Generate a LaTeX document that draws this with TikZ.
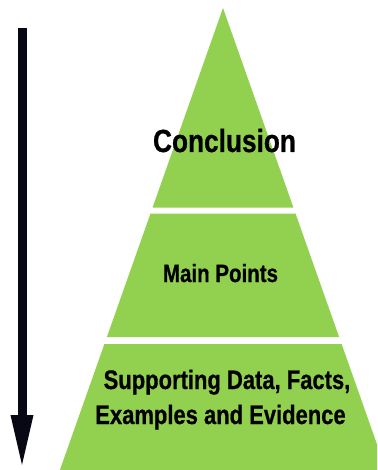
\documentclass[tikz,border=0pt]{standalone}
\usepackage{fontspec}
\setmainfont{Liberation Sans}[FakeStretch=0.82, BoldFeatures={FakeBold=0.6}]
\usetikzlibrary{arrows.meta}
\definecolor{pgreen}{RGB}{146,208,80}
\tikzset{
  tier/.style={fill=pgreen, draw=none},
  lbl/.style={anchor=base, inner sep=0pt, font=\bfseries, text=black},
  downarrow/.style={line width=9pt, draw={rgb,255:red,8;green,8;blue,20}, -{Triangle[width=20pt,length=55pt]}}
}
\begin{document}
\begin{tikzpicture}[x=1pt,y=-1pt]
\useasboundingbox (0,0) rectangle (377,470);
\begin{scope}
\clip (0,0) rectangle (377,470);
% top triangle
\fill[tier] (223,8) -- (293.4,207.5) -- (152.6,207.5) -- cycle;
% middle trapezoid
\fill[tier] (150.5,213.5) -- (295.5,213.5) -- (339.1,337) -- (106.9,337) -- cycle;
% bottom trapezoid
\fill[tier] (104.4,344) -- (341.6,344) -- (386.1,470) -- (59.9,470) -- cycle;
\end{scope}
% labels
\node[lbl, font=\bfseries\fontsize{32}{36}\selectfont] (concl) at (224.5,152) {Conclusion};
\node[lbl, font=\bfseries\fontsize{25}{30}\selectfont] (main) at (220.5,282) {Main Points};
\node[lbl, font=\bfseries\fontsize{26.8}{30}\selectfont] (sup1) at (227,389) {Supporting Data, Facts,};
\node[lbl, font=\bfseries\fontsize{26.8}{30}\selectfont] (sup2) at (220.5,424) {Examples and Evidence};
% arrow
\coordinate (atop) at (22,28);
\coordinate (abot) at (22,470);
\draw[downarrow] (atop) -- (abot);
\end{tikzpicture}
\end{document}
